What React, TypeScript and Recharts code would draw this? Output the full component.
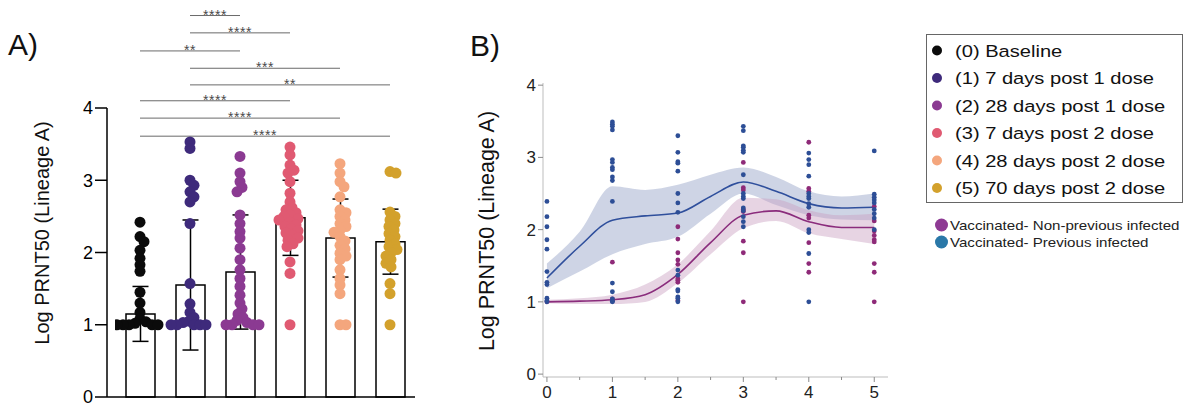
import React from 'react';
import {
  ComposedChart,
  Bar,
  ErrorBar,
  Scatter,
  XAxis,
  YAxis,
  ReferenceLine,
  ReferenceArea,
  Line,
  Area,
} from 'recharts';

const FONT = '"Liberation Sans", Arial, sans-serif';

// ---- Panel A: groups, bars, dots ----
const groupNames = [
  '(0) Baseline',
  '(1) 7 days post 1 dose',
  '(2) 28 days post 1 dose',
  '(3) 7 days post 2 dose',
  '(4) 28 days post 2 dose',
  '(5) 70 days post 2 dose',
];
const groupColors = ['#0b0b0b', '#3e2a7b', '#8b3a92', '#e05a72', '#f4a67d', '#d3a12c'];
const barMeans = [1.15, 1.55, 1.73, 2.48, 2.2, 2.15];
const barSd = [0.38, 0.9, 0.79, 0.52, 0.54, 0.45];

const baselineDots = [2.42, 2.22, 2.15, 2.03, 1.92, 1.83, 1.74, 1.45, 1.3, 1.17, 1.08, 1.04, 1.02, 1, 1, 1, 1, 1];
const d7dose1Dots = [3.53, 3.44, 3.0, 2.93, 2.84, 2.77, 2.7, 2.4, 1.57, 1.29, 1.17, 1.1, 1.05, 1.03, 1, 1, 1, 1, 1];
const d28dose1Dots = [
  3.33, 3.1, 2.98, 2.9, 2.84, 2.52, 2.4, 2.29, 2.2, 2.06, 1.9, 1.76, 1.64, 1.53, 1.41, 1.3, 1.22, 1.15, 1.1, 1.06,
  1.03, 1, 1, 1, 1,
];
const d7dose2Dots = [
  3.46, 3.35, 3.21, 3.14, 3.1, 2.98, 2.82, 2.7, 2.62, 2.59, 2.55, 2.52, 2.5, 2.47, 2.45, 2.42, 2.38, 2.36, 2.33,
  2.3, 2.27, 2.24, 2.2, 2.17, 2.12, 2.08, 1.87, 1.71, 1.0,
];
const d28dose2Dots = [
  3.23, 3.1, 2.98, 2.91, 2.77, 2.59, 2.55, 2.5, 2.45, 2.4, 2.36, 2.31, 2.28, 2.22, 2.16, 2.1, 2.05, 1.99, 1.95, 1.9,
  1.76, 1.64, 1.55, 1.43, 1.0, 1.0,
];
const d70dose2Dots = [
  3.12, 3.1, 2.56, 2.5, 2.45, 2.4, 2.36, 2.31, 2.26, 2.22, 2.17, 2.12, 2.08, 2.04, 2.0, 1.95, 1.9, 1.85, 1.8, 1.57,
  1.43, 1.0,
];
const groupDots = [baselineDots, d7dose1Dots, d28dose1Dots, d7dose2Dots, d28dose2Dots, d70dose2Dots];

// significance brackets
const bracketFrom = [1, 1, 0, 1, 1, 0, 0, 0];
const bracketTo = [2, 3, 2, 4, 5, 3, 4, 5];
const bracketLevel = [5.28, 5.04, 4.79, 4.55, 4.32, 4.1, 3.86, 3.61];
const bracketStars = ['****', '****', '**', '***', '**', '****', '****', '****'];

// ---- Panel B: timepoints, fits, dots ----
const fitX = [0, 0.5, 1, 1.5, 2, 2.5, 3, 3.5, 4, 4.5, 5];
const prevFit = [1.33, 1.77, 2.13, 2.19, 2.23, 2.46, 2.66, 2.53, 2.36, 2.3, 2.31];
const prevLow = [1.19, 1.42, 1.66, 1.8, 1.9, 2.22, 2.5, 2.34, 2.2, 2.14, 2.13];
const prevHigh = [1.53, 1.97, 2.6, 2.55, 2.62, 2.76, 2.86, 2.73, 2.53, 2.46, 2.5];
const nonFit = [1.0, 1.01, 1.03, 1.1, 1.38, 1.82, 2.2, 2.26, 2.11, 2.03, 2.03];
const nonLow = [0.98, 0.97, 0.97, 1.0, 1.26, 1.66, 2.02, 2.12, 1.95, 1.87, 1.8];
const nonHigh = [1.03, 1.05, 1.1, 1.24, 1.52, 1.98, 2.44, 2.42, 2.27, 2.2, 2.22];

const prevInfDots = [
  [2.39, 2.18, 2.04, 1.86, 1.73, 1.42, 1.27, 1.24, 1.05, 1.02, 1.0],
  [3.49, 3.46, 3.43, 3.38, 2.97, 2.93, 2.86, 2.83, 2.73, 2.68, 2.39, 1.26, 1.14, 1.04, 1.01, 1.0],
  [3.3, 3.07, 2.94, 2.92, 2.81, 2.5, 2.37, 2.24, 1.44, 1.37, 1.17, 1.15, 1.07, 1.05, 1.0],
  [3.43, 3.37, 3.16, 3.14, 3.1, 3.07, 2.76, 2.5, 2.46, 2.43, 2.3, 2.26, 2.18, 2.11, 2.04],
  [3.06, 2.97, 2.9, 2.74, 2.5, 2.46, 2.43, 2.36, 2.31, 2.0, 1.96, 1.67, 1.0],
  [3.09, 2.49, 2.45, 2.41, 2.37, 2.28, 2.22, 2.16, 2.0],
];
const nonPrevDots = [
  [1.0],
  [1.55, 1.04, 1.02],
  [2.04, 1.87, 1.68, 1.58, 1.52, 1.32, 1.3, 1.27, 1.02],
  [2.93, 2.58, 2.55, 2.28, 2.25, 1.84, 1.68, 1.0],
  [3.21, 2.57, 2.53, 2.2, 2.16, 1.82, 1.53, 1.41],
  [2.32, 2.12, 1.98, 1.92, 1.86, 1.83, 1.53, 1.41, 1.0],
];
const cohortNames = ['Vaccinated- Non-previous infected', 'Vaccinated- Previous infected'];
const cohortKeyColors = ['#8e3a94', '#2a78a8'];

// beeswarm offsets (pixel layout only, values untouched)
function swarm(values: number[], idx: number, pxX = 50, pxY = 72.25, minD = 6) {
  const placed: { dx: number; py: number }[] = [];
  return values.map((v) => {
    const py = v * pxY;
    let dx = 0;
    for (let k = 0; k < 80; k++) {
      const cand = k === 0 ? 0 : (k % 2 ? 1 : -1) * Math.ceil(k / 2);
      if (placed.every((p) => Math.hypot(p.dx - cand, p.py - py) >= minD)) {
        dx = cand;
        break;
      }
    }
    placed.push({ dx, py });
    return { x: idx + dx / pxX, y: v };
  });
}

const barRows = groupNames.map((n, i) => ({ name: String(i), mean: barMeans[i], sd: barSd[i] }));
const fitRows = fitX.map((x, i) => ({
  x,
  prev: prevFit[i],
  non: nonFit[i],
  prevBand: [prevLow[i], prevHigh[i]],
  nonBand: [nonLow[i], nonHigh[i]],
}));
const prevPts = prevInfDots.flatMap((vals, t) => vals.map((v) => ({ x: t, y: v })));
const nonPts = nonPrevDots.flatMap((vals, t) => vals.map((v) => ({ x: t, y: v })));

const dot = (r: number, fill: string) => (p: any) => <circle cx={p.cx} cy={p.cy} r={r} fill={fill} />;

const BTick = (props: any) => {
  const { x, y, payload } = props;
  const major = Number.isInteger(payload.value);
  return (
    <g>
      <line x1={x} x2={x} y1={y - 8} y2={y - 8 + (major ? 5 : 3)} stroke="#8a8a8a" />
      {major && (
        <text x={x} y={y} dy="0.78em" textAnchor="middle" fontSize={17} fill="#222" fontFamily={FONT}>
          {payload.value}
        </text>
      )}
    </g>
  );
};

export default function App() {
  return (
    <div style={{ position: 'absolute', left: 0, top: 0, width: 1190, height: 403, background: '#fff', fontFamily: FONT }}>
      <div style={{ position: 'absolute', left: 0, top: 0 }}>
        <ComposedChart width={420} height={403} data={barRows} margin={{ top: 108, right: 5, bottom: 5, left: 77 }}>
          <XAxis
            xAxisId="cat"
            dataKey="name"
            tick={false}
            tickLine={false}
            height={1}
            padding={{ left: 8, right: 0 }}
            axisLine={{ stroke: '#000', strokeWidth: 1.5 }}
          />
          <XAxis xAxisId="num" type="number" dataKey="x" domain={[-0.5, 5.5]} hide height={0} padding={{ left: 8, right: 0 }} allowDataOverflow />
          <YAxis
            domain={[0, 4]}
            ticks={[0, 1, 2, 3, 4]}
            interval={0}
            width={30}
            tickSize={12}
            axisLine={{ stroke: '#000', strokeWidth: 1.5 }}
            tickLine={{ stroke: '#000', strokeWidth: 1.5 }}
            tick={{ fill: '#000', fontSize: 18, fontFamily: FONT }}
          />
          <Bar xAxisId="cat" dataKey="mean" barSize={29} fill="#fff" stroke="#000" strokeWidth={1.5} isAnimationActive={false}>
            <ErrorBar dataKey="sd" width={8} stroke="#000" strokeWidth={1.5} />
          </Bar>
          {groupDots.map((vals, i) => (
            <Scatter
              key={i}
              xAxisId="num"
              data={swarm(vals, i)}
              dataKey="y"
              shape={dot(5.5, groupColors[i])}
              isAnimationActive={false}
            />
          ))}
          {bracketLevel.map((lv, i) => (
            <ReferenceLine
              key={i}
              xAxisId="num"
              ifOverflow="visible"
              segment={[
                { x: bracketFrom[i], y: lv },
                { x: bracketTo[i], y: lv },
              ]}
              stroke="#6a6a6a"
              strokeWidth={1}
              label={{
                value: bracketStars[i],
                position: 'top',
                offset: -4,
                fill: '#4a4a4a',
                fontSize: 14,
                letterSpacing: 0.5,
                fontFamily: FONT,
              }}
            />
          ))}
        </ComposedChart>
      </div>

      <div style={{ position: 'absolute', left: 470, top: 0 }}>
        <ComposedChart width={430} height={403} data={fitRows} margin={{ top: 83, right: 12, bottom: 2, left: 33 }}>
          <XAxis
            type="number"
            dataKey="x"
            domain={[-0.06, 5.21]}
            ticks={[0, 0.5, 1, 1.5, 2, 2.5, 3, 3.5, 4, 4.5, 5]}
            interval={0}
            allowDataOverflow
            height={24}
            tickSize={6}
            tickMargin={2}
            tickLine={false}
            axisLine={{ stroke: '#bdbdbd' }}
            tick={<BTick />}
          />
          <YAxis
            domain={[-0.04, 4.03]}
            ticks={[0, 1, 2, 3, 4]}
            interval={0}
            allowDataOverflow
            width={40}
            tickSize={5}
            tickMargin={2}
            axisLine={{ stroke: '#bdbdbd' }}
            tickLine={{ stroke: '#8a8a8a' }}
            tick={{ fill: '#222', fontSize: 17, fontFamily: FONT }}
          />
          <ReferenceArea ifOverflow="visible" fill="none" stroke="#cfcfcf" strokeWidth={1} />
          <Area type="monotone" dataKey="prevBand" fill="#9ea9cc" fillOpacity={0.5} stroke="none" isAnimationActive={false} />
          <Area type="monotone" dataKey="nonBand" fill="#c9a0c2" fillOpacity={0.45} stroke="none" isAnimationActive={false} />
          <Line type="monotone" dataKey="prev" stroke="#2f4f9c" strokeWidth={1.6} dot={false} isAnimationActive={false} />
          <Line type="monotone" dataKey="non" stroke="#8a2c7c" strokeWidth={1.6} dot={false} isAnimationActive={false} />
          <Scatter data={nonPts} dataKey="y" shape={dot(2.4, '#8e2a78')} isAnimationActive={false} />
          <Scatter data={prevPts} dataKey="y" shape={dot(2.4, '#2d4e96')} isAnimationActive={false} />
        </ComposedChart>
      </div>

      <svg width={1190} height={403} style={{ position: 'absolute', left: 0, top: 0, pointerEvents: 'none' }} fontFamily={FONT}>
        <text x={8} y={55} fontSize={30} fill="#111">A)</text>
        <text x={470} y={56} fontSize={30} fill="#111">B)</text>
        <text transform="translate(49, 233) rotate(-90)" textAnchor="middle" fontSize={20} fill="#111">
          Log PRNT50 (Lineage A)
        </text>
        <text transform="translate(494, 231) rotate(-90)" textAnchor="middle" fontSize={21.5} fill="#111">
          Log PRNT50 (Lineage A)
        </text>

        <rect x={926.5} y={34.5} width={256} height={168} fill="none" stroke="#666" strokeWidth={1} />
        {groupNames.map((n, i) => (
          <g key={n}>
            <circle cx={937} cy={50.5 + i * 27.5} r={5} fill={groupColors[i]} />
            <text transform={`translate(955, ${50.5 + i * 27.5 + 6}) scale(1.17, 1)`} fontSize={17.2} fill="#111">
              {n}
            </text>
          </g>
        ))}
        {cohortNames.map((n, i) => (
          <g key={n}>
            <circle cx={941.5} cy={225 + i * 17} r={6.5} fill={cohortKeyColors[i]} />
            <text transform={`translate(950, ${225 + i * 17 + 4.6}) scale(1.18, 1)`} fontSize={12.8} fill="#222">
              {n}
            </text>
          </g>
        ))}
      </svg>
    </div>
  );
}
